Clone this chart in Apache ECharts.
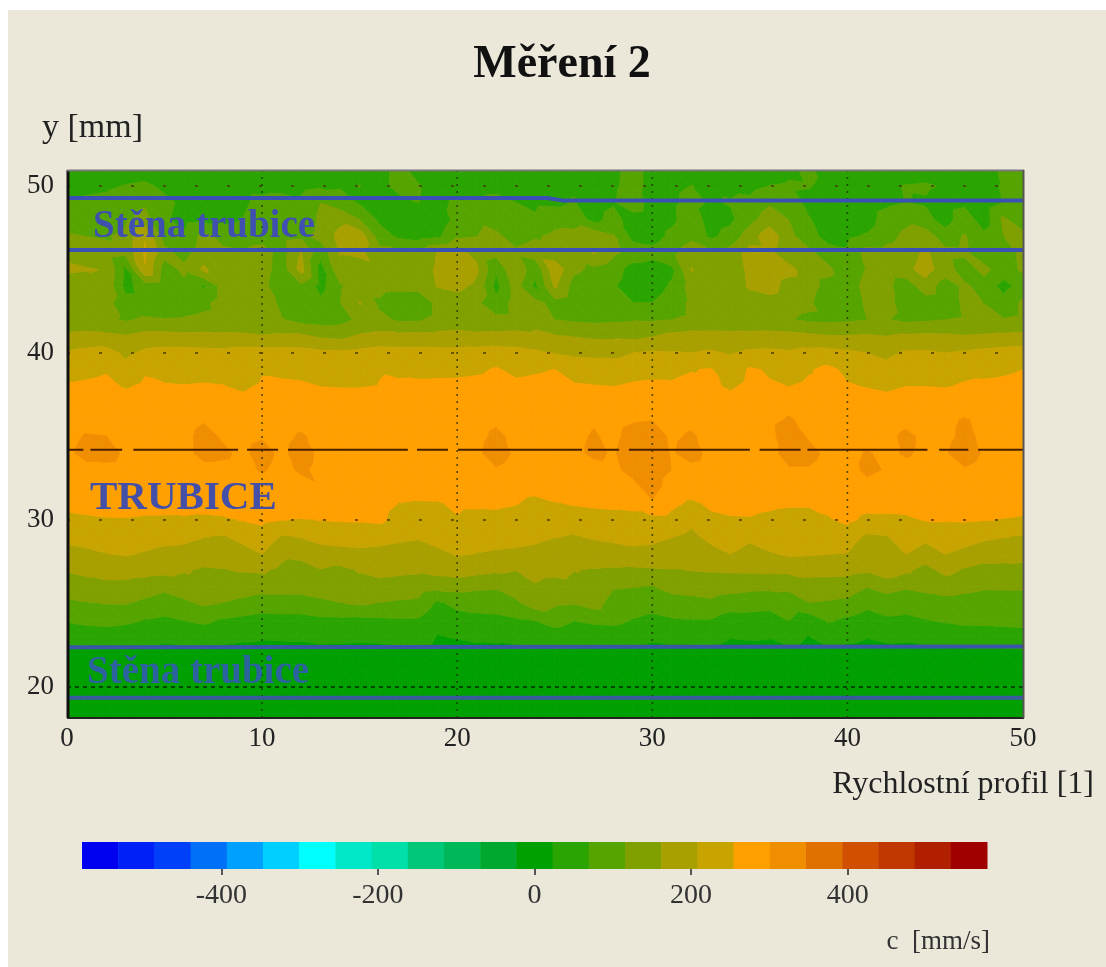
<!DOCTYPE html>
<html><head><meta charset="utf-8">
<style>html,body{margin:0;padding:0;background:#fff}#c{width:1106px;height:967px;filter:blur(0.45px)}</style>
<script src="https://cdn.jsdelivr.net/npm/echarts@6/dist/echarts.min.js"></script>
</head><body><div id="c"></div>
<script>
const xProfiles = Array.from({length: 50}, (_, i) => i);
const xTickValues = [0, 10, 20, 30, 40, 49];
const xTickLabels = ['0', '10', '20', '30', '40', '50'];
const yTickValues = [20, 30, 40, 50];
const colorTickValues = [-400, -200, 0, 200, 400];
const colorRange = [-578, 578];
const bandColors = ['#0000f0','#0020f8','#0040f8','#0070f8','#00a0ff','#00d0ff','#00ffff','#00e8c8','#00e0a8','#00c878','#00b858','#00a830','#00a000','#2aa400','#55a400','#80a000','#a8a000','#c8a400','#ffa000','#ef8e00','#e07000','#d05000','#c03800','#b02000','#a00000'];
const rowY = [50.96,50,49,48,47,46,45,44,43,42,41,40,39,38,37,36,35,34,33,32,31,30,29,28,27,26,25,24,23,22,21,20,19,18.14];
const speed = [
[45,42,40,42,48,48,45,42,28,40,45,48,50,55,55,50,60,78,60,40,45,50,45,48,45,50,60,70,60,85,55,50,48,45,42,50,45,60,78,50,45,50,45,40,48,45,50,55,75,80],
[50,55,60,72,78,60,50,45,42,55,50,48,55,62,65,70,60,78,72,50,48,52,55,50,55,60,65,60,62,85,55,62,70,65,60,55,70,75,72,60,50,62,60,72,75,65,55,60,72,78],
[75,80,85,100,110,80,60,62,65,60,85,95,80,115,90,65,50,60,70,55,80,75,85,70,62,60,72,50,65,95,50,62,80,65,72,80,110,100,55,45,50,45,60,70,65,50,60,45,70,85],
[95,85,70,105,130,75,55,58,60,70,95,75,80,125,150,115,60,40,35,40,85,110,95,70,75,100,95,55,85,50,45,60,95,50,60,100,140,115,75,40,35,48,90,105,85,50,95,45,125,85],
[120,115,110,130,205,95,75,130,100,85,90,100,105,130,175,190,95,60,50,60,110,115,125,95,110,125,130,150,120,55,50,80,105,60,85,140,190,130,85,55,60,75,100,125,140,90,120,80,115,130],
[150,140,135,125,215,130,100,140,125,120,140,95,165,85,165,175,130,125,120,165,175,150,130,125,140,130,135,165,125,100,85,105,140,125,135,180,175,125,130,85,75,135,130,140,170,130,125,85,90,130],
[170,165,160,60,205,95,125,170,135,125,140,90,180,50,150,130,150,140,135,170,210,170,75,160,80,195,125,105,90,50,45,60,165,130,125,175,195,180,135,130,75,120,140,150,180,140,90,130,90,125],
[135,130,150,55,90,85,105,65,135,135,135,75,105,55,110,135,140,135,135,165,175,150,55,135,60,170,95,85,75,45,50,75,135,130,135,170,185,140,135,100,85,135,130,85,145,90,125,95,55,85],
[140,135,130,90,85,80,95,105,135,140,145,105,80,80,115,165,105,70,75,130,135,125,85,135,130,100,85,80,80,70,70,90,125,130,135,135,140,130,125,85,80,125,130,95,90,85,125,115,85,125],
[130,132,125,110,122,118,120,125,130,130,125,118,100,95,100,125,130,108,110,130,135,132,128,130,145,115,108,105,108,112,110,115,125,130,128,125,122,118,108,105,108,115,118,105,110,115,120,122,118,125],
[172,175,172,165,178,178,175,175,172,170,165,170,170,155,150,168,175,175,178,176,178,172,175,178,172,165,160,155,155,150,160,175,180,178,176,178,180,178,172,165,165,168,162,170,172,170,165,168,172,175],
[212,222,228,198,218,224,225,222,220,228,228,228,225,218,218,222,228,226,225,224,222,226,232,225,216,206,198,195,192,208,214,212,208,214,205,216,218,214,222,225,218,208,198,214,215,208,214,222,226,232],
[238,243,250,225,249,240,238,240,240,215,249,245,243,235,233,232,251,245,242,244,245,248,258,245,250,255,240,236,240,244,245,244,252,258,225,260,250,235,250,265,245,240,222,240,232,240,245,244,248,254],
[258,262,266,250,262,258,256,258,256,246,262,262,260,254,252,252,256,262,264,264,264,266,270,264,266,268,258,256,254,258,260,260,268,262,248,266,258,254,262,268,258,252,246,254,254,252,258,262,264,268],
[280,282,284,276,282,280,280,284,282,270,282,280,280,276,276,276,280,284,284,282,284,284,288,286,284,286,284,282,284,286,288,284,286,282,272,284,286,292,284,286,280,276,270,278,280,278,284,292,286,286],
[286,288,288,284,286,286,288,298,292,286,290,288,290,284,284,284,286,288,288,288,290,290,296,292,288,290,290,298,292,298,300,290,294,288,284,288,294,303,294,290,286,286,284,292,292,294,303,294,290,290],
[292,303,301,292,288,288,292,310,297,292,298,292,304,292,288,288,288,288,290,290,290,293,306,294,290,292,294,303,294,310,313,296,304,292,288,290,292,316,298,292,288,290,292,307,294,294,306,296,292,290],
[295,309,311,296,290,288,292,309,306,294,311,294,313,294,288,288,288,288,290,290,290,295,313,296,290,292,294,306,298,316,319,298,311,292,288,290,292,310,310,294,290,303,294,304,294,298,313,298,292,290],
[288,292,292,290,286,286,288,292,292,290,304,290,306,292,286,284,284,284,286,286,286,288,298,288,286,288,288,290,294,310,316,300,292,288,286,286,288,298,298,288,286,308,298,290,288,290,298,290,288,288],
[278,280,282,280,278,278,278,280,280,280,286,282,286,298,282,278,278,276,278,278,278,278,282,280,276,278,278,282,284,292,314,286,282,280,278,278,280,282,282,280,278,290,280,280,280,282,284,280,280,280],
[266,268,270,268,265,264,266,266,268,270,272,268,270,278,268,268,268,254,250,251,262,262,264,258,238,252,258,262,264,268,297,266,246,262,266,268,264,260,260,266,272,266,264,266,268,270,270,268,266,264],
[243,248,251,252,250,250,250,248,250,256,263,255,253,255,258,259,263,240,232,228,251,240,238,230,208,226,233,235,238,238,238,238,218,245,250,251,243,236,236,250,263,246,248,249,256,257,259,256,253,251],
[220,225,233,238,230,223,220,210,205,220,236,205,210,220,223,225,223,218,213,225,238,233,228,225,220,210,205,213,218,223,220,210,198,220,236,218,231,241,238,236,233,200,205,236,218,236,225,215,210,205],
[194,200,208,213,205,196,194,182,176,194,210,176,182,194,197,200,197,191,185,199,213,208,202,199,194,182,176,185,191,197,194,182,168,194,210,191,205,216,213,210,208,172,176,210,191,210,199,188,182,176],
[166,174,183,183,180,177,166,157,160,166,169,151,134,160,149,166,177,172,169,180,188,177,169,163,183,180,163,160,157,154,157,160,163,166,169,171,172,174,176,177,177,169,194,171,146,177,157,143,146,149],
[138,143,147,147,138,126,138,150,144,138,132,132,132,138,144,147,144,141,138,129,129,123,120,138,156,138,147,156,120,117,114,129,132,138,132,126,125,123,144,141,138,117,129,120,126,132,126,120,120,120],
[107,113,117,118,106,94,107,122,114,104,94,96,96,105,114,122,114,109,106,60,85,89,89,106,140,122,118,134,97,92,87,98,101,106,91,89,86,96,114,110,105,82,97,89,97,102,100,97,98,99],
[75,82,86,79,68,61,71,79,65,58,51,54,54,61,61,58,61,65,65,30,45,54,58,65,71,89,71,79,82,68,58,65,68,68,47,51,47,71,40,75,61,47,61,58,68,75,82,82,86,89],
[39,43,44,41,36,32,37,41,34,30,27,28,28,32,32,30,32,34,34,22,25,28,30,34,37,46,37,41,43,36,30,34,36,36,25,27,25,37,22,39,32,25,32,30,36,39,43,43,44,46],
[14,15,12,14,12,10,12,14,10,8,9,8,10,12,10,9,10,12,11,16,12,14,12,10,12,14,12,11,10,9,10,11,10,9,8,9,10,12,9,12,10,9,8,9,10,12,13,14,14,15],
[4,5,4,5,4,3,4,5,3,2,3,2,3,4,3,3,4,4,3,5,4,5,4,3,4,5,4,3,3,2,3,4,3,3,2,3,3,4,3,4,3,2,3,3,3,4,4,5,5,5],
[2,2,2,3,2,1,2,2,1,1,2,1,1,2,1,1,2,2,2,3,2,2,2,1,2,2,2,1,1,1,1,2,1,1,1,1,1,2,1,2,1,1,1,1,2,2,2,2,2,2],
[1,1,1,2,1,0,1,1,0,0,1,0,0,1,0,0,1,1,1,1,1,1,1,0,1,1,1,0,0,0,0,1,0,0,0,0,0,1,0,1,0,0,0,0,1,1,1,1,1,1],
[0,0,0,1,0,0,0,0,0,0,0,0,0,0,0,0,0,0,0,0,0,0,0,0,0,0,0,0,0,0,0,0,0,0,0,0,0,0,0,0,0,0,0,0,0,0,0,0,0,0]
];
const upperWallTop = [[0,49.28],[24.6,49.28],[25.4,49.14],[49,49.14]];
const upperWallBottom = [[0,46.17],[49,46.17]];
const lowerWallTop = [[0,22.38],[49,22.42]];
const lowerWallBottom = [[0,19.36],[49,19.36]];
const axisLevel = 34.2;
const axisDashes = [[0,0.84],[1.2,2.83],[3.4,8.77],[9.23,10.82],[11.33,17.47],[17.94,19.53],[20.04,26.4],[26.7,28.3],[28.8,35],[35.5,37.6],[37.95,44.1],[44.7,46.2],[46.7,49]];

const bandWidth = (colorRange[1] - colorRange[0]) / bandColors.length;
const Serif = '"Liberation Serif","Times New Roman",serif';

function clipAbove(p, t) {
  const out = [];
  for (let i = 0; i < p.length; i++) {
    const a = p[i], b = p[(i + 1) % p.length];
    if (a[2] >= t) out.push(a);
    if ((a[2] >= t) !== (b[2] >= t)) {
      const f = (t - a[2]) / (b[2] - a[2]);
      out.push([a[0] + f * (b[0] - a[0]), a[1] + f * (b[1] - a[1]), t]);
    }
  }
  return out;
}
function clipBelow(p, t) {
  const flipped = p.map(q => [q[0], q[1], -q[2]]);
  return clipAbove(flipped, -t).map(q => [q[0], q[1], -q[2]]);
}
function bandShapes(tri, api, out) {
  const vals = tri.map(t => t[2]);
  const lo = Math.min.apply(null, vals), hi = Math.max.apply(null, vals);
  const first = Math.max(0, Math.floor((lo - colorRange[0]) / bandWidth));
  const last = Math.min(bandColors.length - 1, Math.floor((hi - colorRange[0]) / bandWidth));
  for (let b = first; b <= last; b++) {
    const bLo = colorRange[0] + b * bandWidth;
    let poly = clipAbove(tri, bLo);
    if (poly.length) poly = clipBelow(poly, bLo + bandWidth);
    if (poly.length < 3) continue;
    const points = poly.map(q => api.coord([q[0], q[1]]));
    out.push({type: 'polygon', shape: {points}, style: {fill: bandColors[b], stroke: bandColors[b], lineWidth: 0.8}});
  }
}
const cells = [];
for (let r = 0; r < rowY.length - 1; r++) for (let c = 0; c < xProfiles.length - 1; c++) cells.push([c, r]);

const xGrid = []; [10, 20, 30, 40].forEach(x => xGrid.push([x, rowY[rowY.length - 1]], [x, rowY[0]], ['-', '-']));
const yGridSparse = []; [30, 40, 50].forEach(y => yGridSparse.push([xProfiles[0], y], [xProfiles[49], y], ['-', '-']));
const yGridDense = [[xProfiles[0], 20], [xProfiles[49], 20]];
const axisLine = []; axisDashes.forEach(d => axisLine.push([d[0], axisLevel], [d[1], axisLevel], ['-', '-']));
const colorCells = bandColors.map((col, i) => [i]);

function lineSeries(data, color, width, type) {
  return {type: 'line', xAxisIndex: 0, yAxisIndex: 0, data, symbol: 'none', silent: true, animation: false, z: 5, connectNulls: false,
    lineStyle: {color, width, type: type || 'solid', cap: 'butt'}};
}
const txt = (text, x, y, size, opt) => ({type: 'text', z: 20, x, y, style: Object.assign({text, fontFamily: Serif, fontSize: size, fill: '#222', textAlign: 'left', textVerticalAlign: 'middle'}, opt || {})});

const chart = echarts.init(document.getElementById('c'), null, {renderer: 'canvas'});
chart.setOption({
  animation: false,
  backgroundColor: '#ffffff',
  grid: [
    {left: 67, top: 170, width: 956, height: 548, show: false},
    {left: 82, top: 842, width: 905, height: 27, show: false}
  ],
  xAxis: [
    {type: 'value', gridIndex: 0, min: 0, max: 49, splitLine: {show: false},
      axisLine: {show: false}, axisTick: {show: false},
      axisLabel: {customValues: xTickValues, formatter: v => xTickLabels[xTickValues.indexOf(v)], fontFamily: Serif, fontSize: 27, color: '#222', margin: 7, hideOverlap: false, showMinLabel: true, showMaxLabel: true}},
    {type: 'value', gridIndex: 1, min: colorRange[0], max: colorRange[1], splitLine: {show: false},
      axisLine: {show: false}, axisTick: {show: true, customValues: colorTickValues, length: 6, lineStyle: {color: '#555', width: 2}},
      axisLabel: {customValues: colorTickValues, fontFamily: Serif, fontSize: 28, color: '#333', margin: 13, showMinLabel: true, showMaxLabel: true}}
  ],
  yAxis: [
    {type: 'value', gridIndex: 0, min: rowY[rowY.length - 1], max: rowY[0], splitLine: {show: false},
      axisLine: {show: false}, axisTick: {show: false},
      axisLabel: {customValues: yTickValues, fontFamily: Serif, fontSize: 27, color: '#222', margin: 13, showMinLabel: true, showMaxLabel: true}},
    {type: 'value', gridIndex: 1, min: 0, max: 1, show: false}
  ],
  series: [
    {type: 'custom', xAxisIndex: 0, yAxisIndex: 0, data: cells, silent: true, animation: false, progressive: 0, z: 2, clip: true,
      renderItem(params, api) {
        const c = api.value(0), r = api.value(1);
        const v = (cc, rr) => [xProfiles[cc], rowY[rr], speed[rr][cc]];
        const a = v(c, r), b = v(c + 1, r), d = v(c + 1, r + 1), e = v(c, r + 1);
        const children = [];
        bandShapes([a, b, d], api, children);
        bandShapes([a, d, e], api, children);
        return {type: 'group', children};
      }},
    lineSeries(xGrid, 'rgba(30,40,0,0.75)', 1.6, [2, 5]),
    lineSeries(yGridSparse, 'rgba(70,50,0,0.7)', 2, [3, 29]),
    lineSeries(yGridDense, 'rgba(0,50,0,0.8)', 2, [4, 4]),
    lineSeries(upperWallTop, '#3a50b4', 4),
    lineSeries(upperWallBottom, '#3a50b4', 4),
    lineSeries(lowerWallTop, '#3a55a8', 4),
    lineSeries(lowerWallBottom, '#3a5aa0', 4),
    lineSeries(axisLine, '#4a2000', 2),
    {type: 'custom', xAxisIndex: 1, yAxisIndex: 1, data: colorCells, silent: true, animation: false, z: 2,
      renderItem(params, api) {
        const i = api.value(0);
        const p0 = api.coord([colorRange[0] + i * bandWidth, 1]);
        const p1 = api.coord([colorRange[0] + (i + 1) * bandWidth, 0]);
        return {type: 'rect', shape: {x: p0[0], y: p0[1], width: p1[0] - p0[0] + 0.5, height: p1[1] - p0[1]}, style: {fill: bandColors[i]}};
      }}
  ],
  graphic: [
    {type: 'rect', z: -10, silent: true, shape: {x: 8, y: 10, width: 1098, height: 957}, style: {fill: '#ebe8da'}},
    txt('Měření 2', 562, 65, 46, {fontWeight: 'bold', textAlign: 'center', fill: '#111'}),
    txt('y [mm]', 42, 128, 34),
    txt('Rychlostní profil [1]', 1094, 785, 32, {textAlign: 'right'}),
    txt('c  [mm/s]', 990, 942, 27, {textAlign: 'right', fill: '#333'}),
    txt('Stěna trubice', 93, 227, 39, {fontWeight: 'bold', fill: '#3f50b0'}),
    txt('TRUBICE', 90, 498, 41, {fontWeight: 'bold', fill: '#4450a8'}),
    txt('Stěna trubice', 87, 673, 39, {fontWeight: 'bold', fill: '#2c62a0'}),
    {type: 'line', z: 15, silent: true, shape: {x1: 68, y1: 170, x2: 68, y2: 718}, style: {stroke: '#111', lineWidth: 3}},
    {type: 'line', z: 15, silent: true, shape: {x1: 67, y1: 718, x2: 1024, y2: 718}, style: {stroke: '#222', lineWidth: 2}},
    {type: 'line', z: 15, silent: true, shape: {x1: 67, y1: 170.5, x2: 1024, y2: 170.5}, style: {stroke: '#777', lineWidth: 2}},
    {type: 'line', z: 15, silent: true, shape: {x1: 1023.5, y1: 170, x2: 1023.5, y2: 718}, style: {stroke: '#555', lineWidth: 2}}
  ]
});
</script></body></html>
